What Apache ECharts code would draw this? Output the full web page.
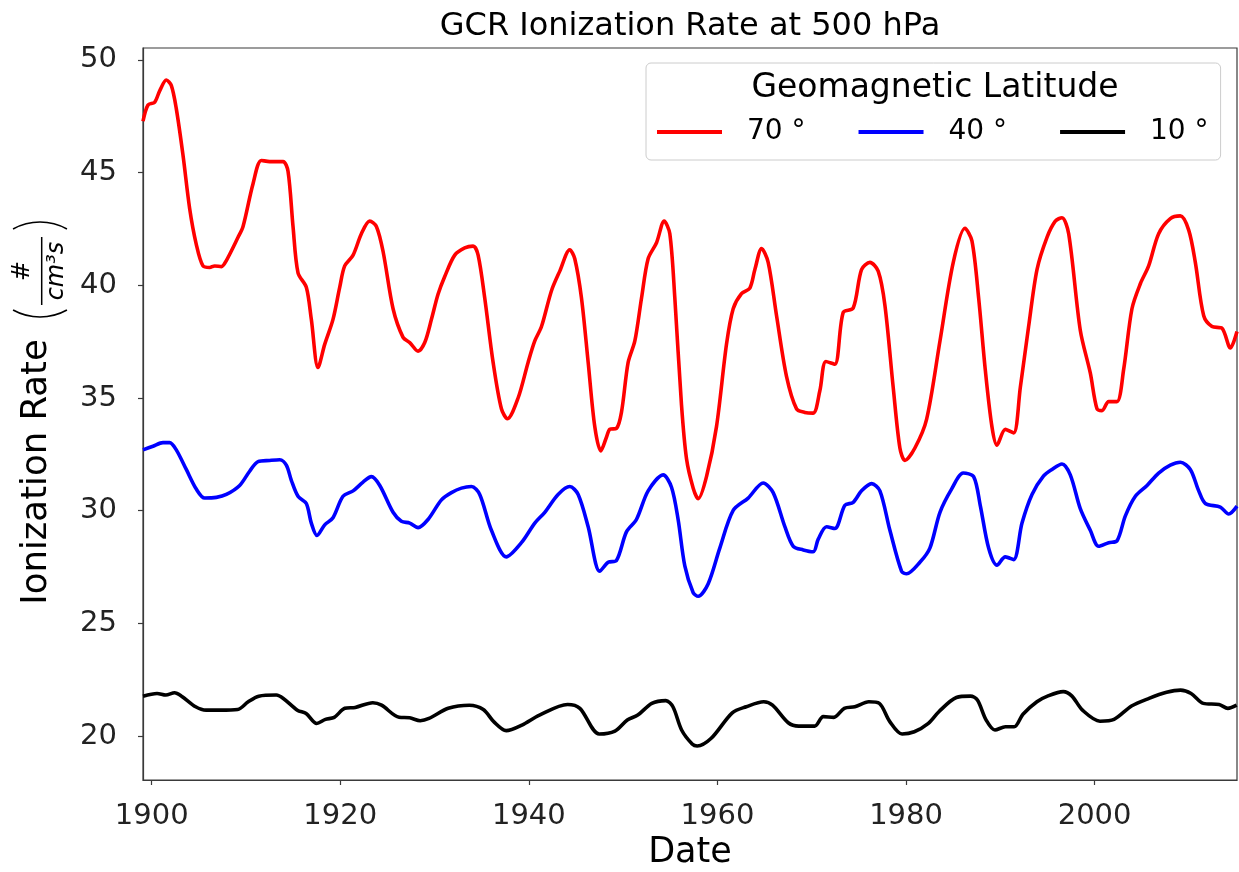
<!DOCTYPE html>
<html>
<head>
<meta charset="utf-8">
<script src="https://cdn.jsdelivr.net/npm/echarts@6/dist/echarts.min.js"></script>
<style>
html,body{margin:0;padding:0;background:#fff;}
#chart{width:1239px;height:872px;}
</style>
</head>
<body>
<div id="chart"></div>
<script>
// ---- data ----
const seriesNames = ['70 °', '40 °', '10 °'];
const seriesColors = ['#ff0000', '#0000ff', '#000000'];
const xTickValues = [1900, 1920, 1940, 1960, 1980, 2000];
const yTickValues = [20, 25, 30, 35, 40, 45, 50];

const years70 = [1899.08,1899.61,1900.31,1900.85,1901.55,1902.08,1902.61,1903.32,1904.03,1904.73,1905.44,1906.15,1906.68,1907.39,1907.92,1909.16,1909.69,1910.75,1911.63,1912.51,1913.93,1914.46,1914.99,1915.52,1916.40,1916.93,1917.64,1918.35,1919.23,1919.94,1920.47,1921.36,1922.24,1923.12,1923.83,1924.54,1925.60,1926.66,1927.37,1928.25,1928.96,1929.67,1930.37,1931.08,1932.14,1933.20,1934.09,1934.62,1935.32,1936.21,1937.09,1937.73,1938.86,1939.92,1940.63,1941.34,1942.40,1943.28,1944.34,1944.87,1945.58,1946.29,1946.99,1947.63,1948.23,1948.59,1949.29,1949.82,1950.53,1951.24,1951.95,1952.65,1953.54,1954.35,1954.95,1955.48,1956.19,1956.72,1957.43,1957.96,1958.84,1959.90,1960.96,1961.67,1962.55,1963.44,1963.97,1964.68,1965.38,1966.27,1967.33,1968.39,1969.27,1970.16,1970.86,1971.50,1972.45,1973.34,1974.40,1975.28,1976.17,1977.05,1977.76,1978.64,1979.35,1979.88,1980.94,1982.18,1983.60,1985.01,1986.25,1986.99,1987.70,1988.40,1989.11,1989.64,1990.53,1991.41,1992.12,1993.00,1993.89,1994.95,1995.83,1996.54,1997.25,1998.48,1999.54,2000.25,2000.78,2001.49,2002.37,2003.08,2003.96,2004.85,2005.73,2006.79,2008.03,2009.09,2009.98,2010.68,2011.57,2012.45,2013.51,2014.40,2015.10];
const rate70 = [47.28,48.00,48.12,48.63,49.11,48.87,47.84,45.78,43.40,41.82,40.86,40.79,40.86,40.83,41.10,42.13,42.61,44.51,45.54,45.49,45.49,45.06,42.61,40.55,39.91,38.49,36.35,37.38,38.49,39.91,40.86,41.34,42.29,42.85,42.61,41.50,38.96,37.69,37.46,37.08,37.46,38.49,39.60,40.39,41.34,41.66,41.74,41.34,39.44,36.58,34.52,34.08,35.00,36.58,37.53,38.17,39.76,40.63,41.58,41.18,39.44,36.58,33.73,32.65,33.26,33.61,33.65,34.36,36.58,37.53,39.44,41.18,41.89,42.85,42.29,39.44,34.68,32.30,31.00,30.53,31.51,33.73,37.38,38.96,39.63,39.88,40.70,41.63,41.02,38.65,35.95,34.52,34.36,34.33,35.32,36.62,36.50,38.80,38.99,40.70,41.02,40.63,39.12,35.47,32.78,32.23,32.78,34.05,37.53,41.02,42.53,41.97,39.44,36.27,33.73,32.91,33.61,33.45,35.47,38.17,40.70,42.13,42.85,43.00,42.29,38.01,36.11,34.52,34.44,34.84,34.84,36.27,38.96,40.07,40.86,42.29,42.96,43.08,42.45,41.02,38.65,38.17,38.09,37.22,37.95];

const years40 = [1899.08,1900.14,1901.20,1901.90,1902.61,1903.67,1904.73,1905.62,1906.86,1907.92,1909.33,1910.39,1911.28,1912.51,1913.58,1914.28,1914.81,1915.52,1916.40,1916.93,1917.53,1918.35,1919.23,1920.29,1921.36,1922.42,1923.30,1924.19,1925.60,1926.48,1927.37,1928.25,1929.31,1930.73,1931.79,1932.85,1933.91,1934.79,1936.03,1937.62,1939.21,1940.63,1941.69,1943.10,1944.34,1945.23,1946.29,1947.52,1948.41,1949.29,1950.35,1951.41,1952.65,1954.24,1955.13,1955.83,1956.54,1957.43,1957.96,1959.02,1960.25,1961.67,1963.26,1964.85,1965.91,1967.15,1968.04,1969.10,1970.16,1970.69,1971.57,1972.45,1973.52,1974.40,1975.28,1976.35,1977.23,1978.29,1979.53,1980.06,1981.47,1982.53,1983.60,1984.83,1986.07,1987.17,1987.87,1988.76,1989.64,1990.53,1991.41,1992.30,1993.36,1994.59,1995.48,1996.54,1997.42,1998.48,1999.54,2000.43,2001.49,2002.37,2003.26,2004.32,2005.56,2006.79,2008.03,2009.09,2010.15,2011.04,2011.74,2013.33,2014.22,2015.10];
const rate40 = [32.70,32.86,33.02,33.02,32.70,31.83,30.96,30.56,30.59,30.72,31.12,31.75,32.18,32.23,32.26,32.02,31.35,30.64,30.32,29.45,28.90,29.37,29.69,30.64,30.88,31.27,31.51,31.12,29.93,29.53,29.45,29.25,29.61,30.48,30.80,31.00,31.07,30.72,29.13,27.95,28.58,29.45,29.93,30.72,31.07,30.72,29.29,27.31,27.71,27.79,29.06,29.61,30.88,31.59,31.04,29.61,27.55,26.36,26.20,26.76,28.34,30.01,30.56,31.23,30.80,29.29,28.42,28.26,28.18,28.74,29.29,29.21,30.24,30.37,30.88,31.20,30.88,29.13,27.31,27.20,27.71,28.34,29.93,30.96,31.67,31.51,30.24,28.34,27.58,27.95,27.83,29.45,30.72,31.54,31.83,32.07,31.59,30.09,29.13,28.42,28.58,28.66,29.77,30.64,31.12,31.67,32.02,32.15,31.83,30.88,30.32,30.16,29.85,30.20];

const years10 = [1899.08,1900.57,1901.50,1902.43,1903.17,1904.66,1905.78,1907.26,1909.12,1910.24,1911.36,1913.22,1913.96,1915.45,1916.38,1917.50,1918.43,1919.36,1920.48,1921.59,1923.45,1924.38,1926.24,1927.36,1928.48,1929.41,1931.45,1933.69,1935.17,1936.30,1937.60,1939.27,1941.13,1944.11,1945.41,1947.46,1949.13,1950.44,1951.55,1953.04,1954.53,1955.28,1956.20,1957.32,1957.85,1959.34,1961.57,1963.05,1964.91,1965.84,1967.51,1968.62,1970.30,1971.22,1972.34,1973.45,1974.57,1976.05,1977.17,1978.28,1979.58,1980.88,1982.37,1983.48,1985.34,1986.83,1987.57,1988.50,1989.43,1990.54,1991.47,1992.40,1993.88,1995.00,1996.67,1997.60,1998.71,2000.57,2002.06,2003.91,2005.77,2007.63,2009.11,2010.23,2011.53,2013.20,2014.13,2015.06];
const rate10 = [21.77,21.89,21.82,21.92,21.77,21.30,21.15,21.15,21.18,21.52,21.77,21.82,21.67,21.15,21.00,20.56,20.74,20.83,21.23,21.27,21.48,21.37,20.83,20.81,20.68,20.78,21.23,21.37,21.18,20.63,20.24,20.49,20.93,21.40,21.23,20.09,20.22,20.71,20.93,21.45,21.57,21.30,20.27,19.65,19.56,19.90,21.03,21.30,21.52,21.37,20.59,20.44,20.44,20.86,20.83,21.23,21.30,21.52,21.45,20.64,20.09,20.19,20.56,21.08,21.71,21.77,21.60,20.71,20.27,20.41,20.41,20.97,21.52,21.77,21.97,21.77,21.15,20.66,20.74,21.33,21.67,21.94,22.04,21.89,21.45,21.40,21.23,21.37];

const xMin = 1899.08, xMax = 2015.1;
const yMin = 18.05, yMax = 50.53;

// ---- build ----
const FONT = "'DejaVu Sans', sans-serif";
const AX = '#3a3a3a';
function pairs(xs, ys) { return xs.map((x, i) => [x, ys[i]]); }
const allX = [years70, years40, years10];
const allY = [rate70, rate40, rate10];

const chart = echarts.init(document.getElementById('chart'), null, {renderer: 'canvas'});
chart.setOption({
  animation: false,
  backgroundColor: '#ffffff',
  title: {
    text: 'GCR Ionization Rate at 500 hPa',
    left: 690, top: 11, textAlign: 'center', padding: 0,
    textStyle: {fontFamily: FONT, fontSize: 32, fontWeight: 'normal', color: '#000'}
  },
  grid: {
    left: 143, right: 2, top: 48, bottom: 92,
    containLabel: false, outerBoundsMode: 'none',
    show: true, borderColor: AX, borderWidth: 1.2, backgroundColor: 'transparent'
  },
  legend: {
    data: seriesNames,
    left: 646, top: 63,
    orient: 'horizontal',
    icon: 'rect', itemWidth: 65, itemHeight: 4, itemGap: 53,
    padding: [55, 12, 14, 11],
    backgroundColor: 'rgba(255,255,255,0.8)',
    borderColor: '#cccccc', borderWidth: 1, borderRadius: 5,
    textStyle: {fontFamily: FONT, fontSize: 28, color: '#000', padding: [0, 0, 0, 20]}
  },
  xAxis: {
    type: 'value', min: xMin, max: xMax,
    name: 'Date', nameLocation: 'middle', nameGap: 55,
    nameTextStyle: {fontFamily: FONT, fontSize: 35, color: '#000'},
    axisLine: {show: true, lineStyle: {color: AX, width: 1.2}},
    axisTick: {show: true, inside: false, length: 5, lineStyle: {color: AX, width: 1.2}, customValues: xTickValues},
    axisLabel: {fontFamily: FONT, fontSize: 29, color: '#222', margin: 22, customValues: xTickValues, formatter: v => String(v)},
    splitLine: {show: false}
  },
  yAxis: {
    type: 'value', min: yMin, max: yMax,
    axisLine: {show: true, lineStyle: {color: AX, width: 1.2}},
    axisTick: {show: true, inside: false, length: 5, lineStyle: {color: AX, width: 1.2}, customValues: yTickValues},
    axisLabel: {fontFamily: FONT, fontSize: 29, color: '#222', margin: 26, customValues: yTickValues, formatter: v => String(v)},
    splitLine: {show: false}
  },
  series: seriesNames.map((n, i) => ({
    name: n, type: 'line',
    data: pairs(allX[i], allY[i]),
    showSymbol: false, symbol: 'none',
    smooth: 0.3,
    clip: true,
    lineStyle: {color: seriesColors[i], width: 3.6},
    itemStyle: {color: seriesColors[i]},
    z: 3 + i
  })),
  graphic: [
    {
      type: 'text', z: 100, x: 935, y: 88,
      style: {text: 'Geomagnetic Latitude', fontFamily: FONT, fontSize: 33, fill: '#000', align: 'center', verticalAlign: 'middle'}
    },
    {
      type: 'group', x: 37, y: 472, rotation: Math.PI / 2, z: 100,
      children: [
        {type: 'text', x: 0, y: 0, style: {text: 'Ionization Rate', fontFamily: FONT, fontSize: 35.5, fill: '#000', align: 'center', verticalAlign: 'middle'}},
        {type: 'text', x: 201, y: -14, style: {text: '#', fontFamily: FONT, fontSize: 24, fill: '#000', align: 'center', verticalAlign: 'middle'}},
        {type: 'text', x: 201, y: 20, style: {text: 'cm³s', fontFamily: FONT, fontSize: 24, fontStyle: 'italic', fill: '#000', align: 'center', verticalAlign: 'middle'}},
        {type: 'line', shape: {x1: 167, y1: 4.7, x2: 235, y2: 4.7}, style: {stroke: '#000', lineWidth: 1.5}},
        {type: 'arc', shape: {cx: 210.6, cy: 3, r: 55.6, startAngle: Math.PI - 0.506, endAngle: Math.PI + 0.506, clockwise: true}, style: {stroke: '#000', lineWidth: 1.6, fill: null}},
        {type: 'arc', shape: {cx: 194.4, cy: 3, r: 55.6, startAngle: -0.506, endAngle: 0.506, clockwise: true}, style: {stroke: '#000', lineWidth: 1.6, fill: null}}
      ]
    }
  ]
});
</script>
</body>
</html>
